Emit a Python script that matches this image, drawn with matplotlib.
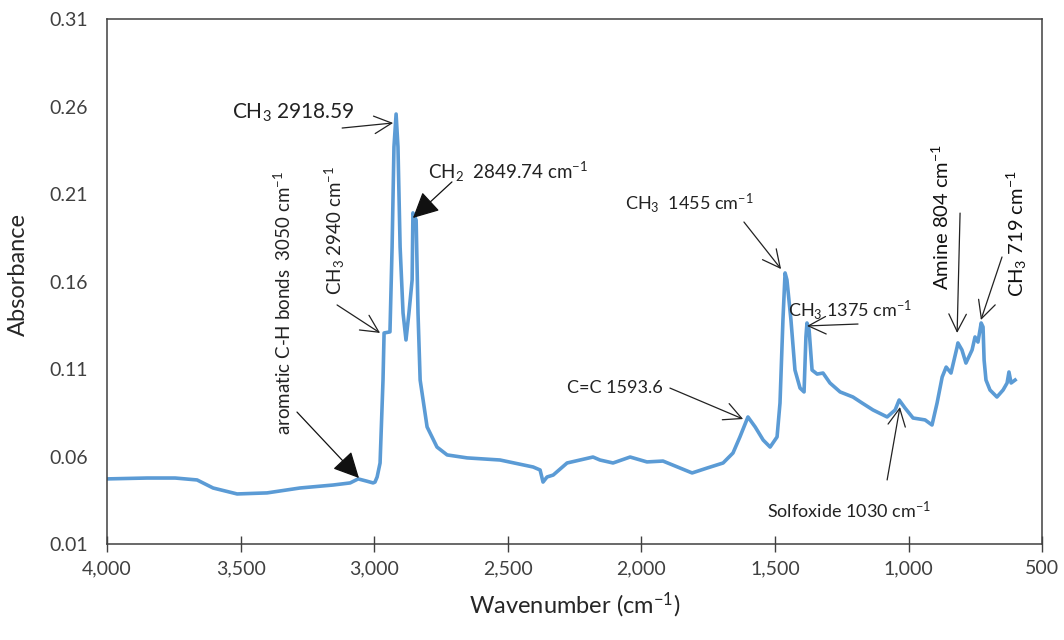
import matplotlib
matplotlib.use('Agg')
import matplotlib.pyplot as plt
from matplotlib.ticker import FuncFormatter

plt.rcParams['font.family'] = ['Lato', 'DejaVu Sans']
plt.rcParams['mathtext.fontset'] = 'custom'
plt.rcParams['mathtext.rm'] = 'Lato'
plt.rcParams['mathtext.it'] = 'Lato:italic'
plt.rcParams['mathtext.bf'] = 'Lato:bold'

# spectrum
wavenumber = [4000, 3850, 3745, 3663, 3603, 3558, 3513, 3401, 3278, 3154, 3090, 3060,
              3030, 3004, 2997, 2989, 2978, 2967, 2963, 2941, 2933, 2926, 2918, 2911,
              2903, 2892, 2881, 2870, 2858, 2855, 2843, 2836, 2828, 2802, 2765, 2727,
              2652, 2529, 2405, 2379, 2368, 2353, 2330, 2278, 2181, 2155, 2106, 2042,
              1979, 1919, 1855, 1810, 1754, 1694, 1657, 1631, 1601, 1574, 1544, 1518,
              1492, 1481, 1470, 1462, 1455, 1440, 1425, 1406, 1391, 1384, 1380, 1372,
              1361, 1342, 1320, 1294, 1256, 1208, 1174, 1133, 1080, 1050, 1035, 1013,
              983, 938, 912, 893, 874, 859, 841, 818, 815, 800, 785, 762, 751, 740,
              728, 721, 717, 710, 695, 669, 646, 631, 624, 616, 601]
absorbance = [0.0472, 0.0477, 0.0477, 0.0466, 0.0420, 0.0403, 0.0386, 0.0392, 0.0420,
              0.0437, 0.0449, 0.0472, 0.0460, 0.0449, 0.0454, 0.0483, 0.0563, 0.1037,
              0.1306, 0.1312, 0.1797, 0.2369, 0.2557, 0.2369, 0.1797, 0.1420, 0.1266,
              0.1420, 0.1609, 0.1992, 0.1951, 0.1420, 0.1037, 0.0769, 0.0654, 0.0609,
              0.0592, 0.0580, 0.0540, 0.0523, 0.0454, 0.0483, 0.0494, 0.0563, 0.0597,
              0.0580, 0.0563, 0.0597, 0.0569, 0.0574, 0.0534, 0.0506, 0.0534, 0.0563,
              0.0620, 0.0712, 0.0826, 0.0769, 0.0694, 0.0654, 0.0712, 0.0906, 0.1380,
              0.1649, 0.1609, 0.1380, 0.1094, 0.0991, 0.0969, 0.1283, 0.1363, 0.1323,
              0.1094, 0.1071, 0.1077, 0.1020, 0.0969, 0.0940, 0.0906, 0.0866, 0.0826,
              0.0866, 0.0923, 0.0877, 0.0820, 0.0809, 0.0780, 0.0906, 0.1054, 0.1111,
              0.1077, 0.1226, 0.1249, 0.1209, 0.1134, 0.1209, 0.1283, 0.1254, 0.1363,
              0.1340, 0.1151, 0.1037, 0.0980, 0.0940, 0.0980, 0.1020, 0.1083, 0.1020,
              0.1037]

x_ticks = [4000, 3500, 3000, 2500, 2000, 1500, 1000, 500]
y_ticks = [0.01, 0.06, 0.11, 0.16, 0.21, 0.26, 0.31]

fig = plt.figure(figsize=(10.64, 6.4), dpi=100)
ax = fig.add_axes([0.1006, 0.15, 0.8788, 0.8203])

ax.plot(wavenumber, absorbance, color='#5B9BD5', lw=2.6, solid_joinstyle='round')

ax.set_xlim(4000, 500)
ax.set_ylim(0.01, 0.31)
ax.set_xticks(x_ticks)
ax.set_yticks(y_ticks)
ax.xaxis.set_major_formatter(FuncFormatter(lambda v, p: '{:,.0f}'.format(v)))
ax.yaxis.set_major_formatter(FuncFormatter(lambda v, p: '{:.2f}'.format(v)))
ax.tick_params(axis='x', direction='inout', length=11, width=1, color='#404040',
               labelsize=14, labelcolor='#404040', pad=6)
ax.tick_params(axis='y', length=0, labelsize=14, labelcolor='#404040', pad=14)
for s in ax.spines.values():
    s.set_color('#404040')
    s.set_linewidth(1.1)

ax.set_xlabel('Wavenumber (cm$^{-1}$)', fontsize=17, color='#262626', labelpad=10)
ax.set_ylabel('Absorbance', fontsize=17, color='#262626')
ax.yaxis.set_label_coords(-0.084, 0.514)

open_head = dict(arrowstyle='->,head_length=0.9,head_width=0.45', color='#222222',
                 lw=0.9, shrinkA=0, shrinkB=0, mutation_scale=14)
full_head = dict(arrowstyle='-|>,head_length=1.0,head_width=0.5', color='#111111',
                 lw=0.9, shrinkA=0, shrinkB=0, mutation_scale=16)

tc = '#222222'
# CH3 2918.59
ax.text(3532, 0.2563, 'CH$_3$ 2918.59', fontsize=15, color=tc, ha='left', va='center')
ax.annotate('', xy=(2929, 0.2506), xytext=(3120, 0.2477), arrowprops=open_head)
# CH2 2849.74
ax.text(2798, 0.2226, 'CH$_2$  2849.74 cm$^{-1}$', fontsize=13.5, color=tc, ha='left', va='center')
ax.annotate('', xy=(2855, 0.1963), xytext=(2709, 0.2169), arrowprops=full_head)
# CH3 2940
ax.text(3147, 0.1889, 'CH$_3$ 2940 cm$^{-1}$', fontsize=13.5, color=tc, rotation=90,
        ha='center', va='center')
ax.annotate('', xy=(2978, 0.1306), xytext=(3139, 0.1466), arrowprops=open_head)
# aromatic C-H
ax.text(3339, 0.1477, 'aromatic C-H bonds  3050 cm$^{-1}$', fontsize=13.5, color=tc,
        rotation=90, ha='center', va='center')
ax.annotate('', xy=(3057, 0.0477), xytext=(3289, 0.0854), arrowprops=full_head)
# CH3 1455
ax.text(2061, 0.2049, 'CH$_3$  1455 cm$^{-1}$', fontsize=13, color=tc, ha='left', va='center')
ax.annotate('', xy=(1477, 0.1671), xytext=(1616, 0.194), arrowprops=open_head)
# CH3 1375
ax.text(1451, 0.1437, 'CH$_3$ 1375 cm$^{-1}$', fontsize=13, color=tc, ha='left', va='center')
ax.annotate('', xy=(1380, 0.1346), xytext=(1189, 0.1357), arrowprops=open_head)
# C=C
ax.text(2278, 0.0991, 'C=C 1593.6', fontsize=13, color=tc, ha='left', va='center')
ax.annotate('', xy=(1619, 0.0814), xytext=(1893, 0.0991), arrowprops=open_head)
# Solfoxide
ax.text(1530, 0.0294, 'Solfoxide 1030 cm$^{-1}$', fontsize=13, color=tc, ha='left', va='center')
ax.annotate('', xy=(1032, 0.0883), xytext=(1080, 0.0466), arrowprops=open_head)
# Amine
ax.text(878, 0.1969, 'Amine 804 cm$^{-1}$', fontsize=14.5, color='#111111', rotation=90,
        ha='center', va='center')
ax.annotate('', xy=(818, 0.1306), xytext=(807, 0.1991), arrowprops=open_head)
# CH3 719
ax.text(594, 0.1871, 'CH$_3$ 719 cm$^{-1}$', fontsize=14.5, color='#111111', rotation=90,
        ha='center', va='center')
ax.annotate('', xy=(729, 0.138), xytext=(650, 0.174), arrowprops=open_head)

fig.savefig('out.png', dpi=100)
